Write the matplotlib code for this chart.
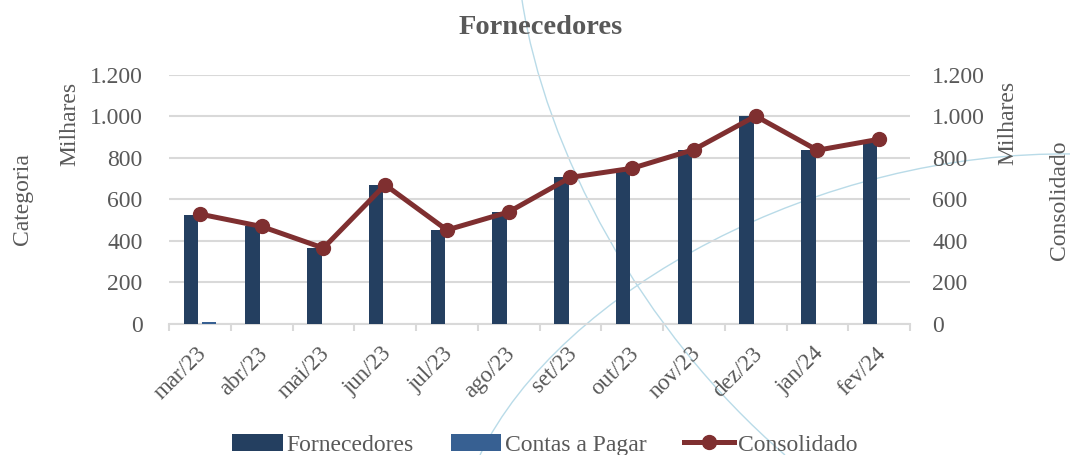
import numpy as np
import matplotlib
matplotlib.use("Agg")
import matplotlib.pyplot as plt
import matplotlib.transforms as mtransforms
from matplotlib.path import Path
from matplotlib.patches import PathPatch
from matplotlib.ticker import FixedLocator, FuncFormatter

plt.rcParams['font.family'] = ['Liberation Serif', 'DejaVu Serif']

categories = ["mar/23", "abr/23", "mai/23", "jun/23", "jul/23", "ago/23",
              "set/23", "out/23", "nov/23", "dez/23", "jan/24", "fev/24"]
fornecedores = [525, 470, 365, 668, 450, 538, 706, 745, 840, 1004, 840, 875]
contas_a_pagar = [6, 0, 0, 0, 0, 0, 0, 0, 0, 0, 0, 0]
consolidado = [529, 469, 365, 670, 452, 539, 706, 750, 840, 1002, 837, 890]
y_ticks = [0, 200, 400, 600, 800, 1000, 1200]

GRAY = "#595959"
NAVY = "#243f60"
BLUE = "#376092"
RED = "#7f2f30"
W, H = 1070, 455

fig = plt.figure(figsize=(W / 100, H / 100), dpi=100)

# decorative background arcs
def fig_pt(x, y):
    return (x / W, 1 - y / H)

arc1 = [fig_pt(522, 0), fig_pt(545, 150), fig_pt(640, 330), fig_pt(785, 455)]
arc2 = [fig_pt(480, 455), fig_pt(560, 290), fig_pt(820, 150), fig_pt(1075, 154)]
for pts in (arc1, arc2):
    p = Path(pts, [Path.MOVETO, Path.CURVE4, Path.CURVE4, Path.CURVE4])
    fig.add_artist(PathPatch(p, fill=False, edgecolor="#b9dbe8", lw=1.0,
                             transform=fig.transFigure, zorder=-5))

left, right, top, bottom = 169, 910, 75, 323.7
ax = fig.add_axes([left / W, 1 - bottom / H, (right - left) / W, (bottom - top) / H])
ax.patch.set_alpha(0)

x = np.arange(len(categories))
bw = 0.235
off = 0.146
ax.bar(x - off, fornecedores, width=bw, color=NAVY, zorder=3, label="Fornecedores")
ax.bar(x + off, contas_a_pagar, width=bw, color=BLUE, zorder=3, label="Contas a Pagar")

ax.set_xlim(-0.5, len(categories) - 0.5)
ax.set_ylim(0, 1200)

fmt = FuncFormatter(lambda v, p: f"{int(v):,}".replace(",", "."))
ax.yaxis.set_major_locator(FixedLocator(y_ticks))
ax.yaxis.set_major_formatter(fmt)
ax.yaxis.grid(True, color="#d9d9d9", lw=1.5, zorder=0)
ax.set_axisbelow(True)
ax.tick_params(axis="y", length=0, pad=19, labelsize=17, labelcolor=GRAY)

# category boundary ticks & centered labels
ax.xaxis.set_major_locator(FixedLocator(np.arange(-0.5, len(categories), 1.0)))
ax.xaxis.set_major_formatter(FuncFormatter(lambda v, p: ""))
ax.xaxis.set_minor_locator(FixedLocator(x))
ax.set_xticklabels(categories, minor=True)
ax.tick_params(axis="x", which="major", length=5, width=1.5, color="#d9d9d9")
ax.tick_params(axis="x", which="minor", length=0, pad=14, labelsize=16.5, labelcolor=GRAY)
shift = mtransforms.ScaledTranslation(-0.04, 0, fig.dpi_scale_trans)
for lab in ax.get_xticklabels(minor=True):
    lab.set_rotation(45)
    lab.set_ha("right")
    lab.set_va("top")
    lab.set_rotation_mode("anchor")
    lab.set_transform(lab.get_transform() + shift)

for s in ["left", "right", "top"]:
    ax.spines[s].set_visible(False)
ax.spines["bottom"].set_color("#d9d9d9")
ax.spines["bottom"].set_linewidth(1.5)

ax2 = ax.twinx()
ax2.set_ylim(0, 1200)
ax2.plot(x, consolidado, color=RED, lw=3.6, marker="o", ms=10, zorder=4,
         label="Consolidado")
ax2.yaxis.set_major_locator(FixedLocator(y_ticks))
ax2.yaxis.set_major_formatter(fmt)
ax2.tick_params(axis="y", length=0, pad=16, labelsize=17, labelcolor=GRAY)
for s in ["left", "right", "top", "bottom"]:
    ax2.spines[s].set_visible(False)

fig.text(541 / W, 1 - 27 / H, "Fornecedores", ha="center", va="center",
         fontsize=20.5, fontweight="bold", color=GRAY)
fig.text(70 / W, 1 - 124 / H, "Milhares", rotation=90, ha="center", va="center",
         fontsize=17, color=GRAY)
fig.text(22 / W, 1 - 199 / H, "Categoria", rotation=90, ha="center", va="center",
         fontsize=17, color=GRAY)
fig.text(1008 / W, 1 - 123 / H, "Milhares", rotation=90, ha="center", va="center",
         fontsize=17, color=GRAY)
fig.text(1060 / W, 1 - 200 / H, "Consolidado", rotation=90, ha="center", va="center",
         fontsize=17, color=GRAY)

h1, l1 = ax.get_legend_handles_labels()
h2, l2 = ax2.get_legend_handles_labels()
leg = fig.legend(h1 + h2, l1 + l2, loc="center", bbox_to_anchor=(545 / W, 1 - 445 / H),
                 ncol=3, frameon=False, fontsize=17, handlelength=2.15,
                 handletextpad=0.17, columnspacing=1.55, labelcolor=GRAY)

fig.savefig("out.png", dpi=100)
